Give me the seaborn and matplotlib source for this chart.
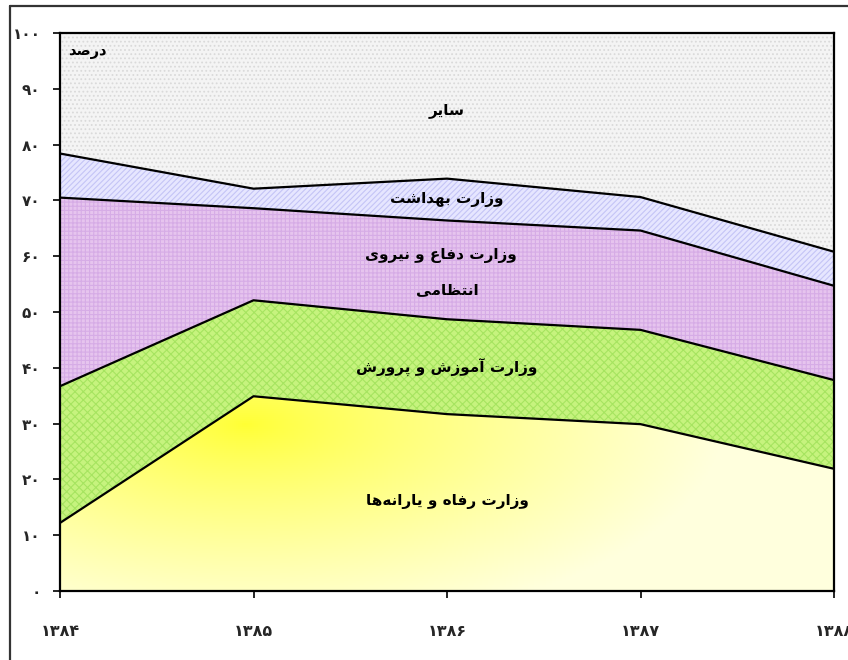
import numpy as np
import pandas as pd
import matplotlib
matplotlib.use("Agg")
import matplotlib.pyplot as plt
from matplotlib.lines import Line2D
import seaborn as sns

# data (percent share of each ministry)
years = [1384, 1385, 1386, 1387, 1388]
year_labels = ["۱۳۸۴", "۱۳۸۵", "۱۳۸۶", "۱۳۸۷", "۱۳۸۸"]
welfare = [12.2, 34.9, 31.7, 29.9, 21.9]
education = [24.5, 17.2, 17.0, 16.9, 15.9]
defense = [33.8, 16.5, 17.7, 17.8, 16.9]
health = [7.9, 3.5, 7.5, 6.0, 6.1]
other = [21.6, 27.9, 26.1, 29.4, 39.2]
y_ticks = [0, 10, 20, 30, 40, 50, 60, 70, 80, 90, 100]
y_labels = ["۰", "۱۰", "۲۰", "۳۰", "۴۰", "۵۰", "۶۰", "۷۰", "۸۰", "۹۰", "۱۰۰"]

# simple arabic shaping (matplotlib has no shaping / bidi)
FORMS = {
    'ا': ('\uFE8D', '\uFE8E', None, None),
    'آ': ('\uFE81', '\uFE82', None, None),
    'ب': ('\uFE8F', '\uFE90', '\uFE91', '\uFE92'),
    'پ': ('\uFB56', '\uFB57', '\uFB58', '\uFB59'),
    'ت': ('\uFE95', '\uFE96', '\uFE97', '\uFE98'),
    'د': ('\uFEA9', '\uFEAA', None, None),
    'ر': ('\uFEAD', '\uFEAE', None, None),
    'ز': ('\uFEAF', '\uFEB0', None, None),
    'س': ('\uFEB1', '\uFEB2', '\uFEB3', '\uFEB4'),
    'ش': ('\uFEB5', '\uFEB6', '\uFEB7', '\uFEB8'),
    'ص': ('\uFEB9', '\uFEBA', '\uFEBB', '\uFEBC'),
    'ظ': ('\uFEC5', '\uFEC6', '\uFEC7', '\uFEC8'),
    'ع': ('\uFEC9', '\uFECA', '\uFECB', '\uFECC'),
    'ف': ('\uFED1', '\uFED2', '\uFED3', '\uFED4'),
    'م': ('\uFEE1', '\uFEE2', '\uFEE3', '\uFEE4'),
    'ن': ('\uFEE5', '\uFEE6', '\uFEE7', '\uFEE8'),
    'ه': ('\uFEE9', '\uFEEA', '\uFEEB', '\uFEEC'),
    'و': ('\uFEED', '\uFEEE', None, None),
    'ی': ('\uFBFC', '\uFBFD', '\uFBFE', '\uFBFF'),
}


def fa(s):
    out = []
    for i, c in enumerate(s):
        if c == '\u200c':
            continue
        if c not in FORMS:
            out.append(c)
            continue
        prev = s[i - 1] if i > 0 else None
        nxt = s[i + 1] if i + 1 < len(s) else None
        p = prev in FORMS and FORMS[prev][2] is not None
        n = nxt in FORMS and FORMS[c][2] is not None
        idx = 3 if (p and n) else 1 if p else 2 if n else 0
        out.append(FORMS[c][idx])
    return ''.join(reversed(out))


sns.set_theme(style="white")
plt.rcParams['font.family'] = ['DejaVu Sans']
plt.rcParams['hatch.linewidth'] = 0.8

fig = plt.figure(figsize=(8.48, 6.6), dpi=100)
ax = fig.add_axes([60 / 848, 1 - 591 / 660, (834 - 60) / 848, (591 - 33) / 660])

df = pd.DataFrame({"year": years, "welfare": welfare, "education": education,
                   "defense": defense, "health": health, "other": other})
series = ["welfare", "education", "defense", "health", "other"]
tops = df[series].cumsum(axis=1)

styles = {
    "welfare": dict(facecolor="none", hatch=None, edgecolor="none"),
    "education": dict(facecolor="#C6F37E", hatch="xxxx", edgecolor="#A6E460"),
    "defense": dict(facecolor="#E6C4EE", hatch="++++", edgecolor="#D6ACE6"),
    "health": dict(facecolor="#E6E6FF", hatch="//////", edgecolor="#C4C4F6"),
    "other": dict(facecolor="#F4F4F4", hatch="....", edgecolor="#DADADA"),
}

bottom = np.zeros(len(years))
polys = {}
for s in series:
    st = styles[s]
    polys[s] = ax.fill_between(df["year"], bottom, tops[s], facecolor=st["facecolor"],
                               hatch=st["hatch"], edgecolor=st["edgecolor"], linewidth=0, zorder=1)
    bottom = tops[s].values

# elliptical yellow gradient for the welfare area
nr, nc = 279, 387
xs = np.linspace(60, 834, nc)
ys = np.linspace(591, 33, nr)
gx, gy = np.meshgrid(xs, ys)
d = np.sqrt(((gx - 245) / 480) ** 2 + ((gy - 425) / 210) ** 2)
t = np.clip(d, 0, 1) ** 0.8
bright = np.array([1.0, 1.0, 0.2])
pale = np.array([1.0, 1.0, 0.87])
rgb = bright[None, None, :] * (1 - t[..., None]) + pale[None, None, :] * t[..., None]
im = ax.imshow(rgb, extent=(1384, 1388, 0, 100), origin="lower", aspect="auto", zorder=1)
im.set_clip_path(polys["welfare"].get_paths()[0], transform=ax.transData)

for s in series[:-1]:
    sns.lineplot(x=df["year"], y=tops[s], color="black", linewidth=1.6, ax=ax, zorder=3)

ax.set_xlim(1384, 1388)
ax.set_ylim(0, 100)
ax.set_xlabel("")
ax.set_ylabel("")
ax.set_xticks(years)
ax.set_xticklabels(year_labels, fontsize=11.5, fontweight="bold")
ax.set_yticks(y_ticks)
ax.set_yticklabels(y_labels, fontsize=11, fontweight="bold")
ax.tick_params(axis="x", direction="out", length=5, width=1.2, color="black", pad=19, bottom=True)
ax.tick_params(axis="y", direction="out", length=5, width=1.2, color="black", pad=9, left=True)
for sp in ax.spines.values():
    sp.set_color("black")
    sp.set_linewidth(1.6)
    sp.set_visible(True)

lbl = dict(fontsize=11, fontweight="bold", ha="center", va="center", color="black", zorder=5)
ax.text(1384.04, 96.6, fa("درصد"), fontsize=10.5, fontweight="bold", ha="left", va="center",
        color="black", zorder=5)
ax.text(1386.0, 86.2, fa("سایر"), **lbl)
ax.text(1386.0, 70.1, fa("وزارت بهداشت"), **lbl)
ax.text(1385.97, 60.2, fa("وزارت دفاع و نیروی"), **lbl)
ax.text(1386.0, 54.1, fa("انتظامی"), **lbl)
ax.text(1386.0, 40.0, fa("وزارت آموزش و پرورش"), **lbl)
ax.text(1386.0, 16.1, fa("وزارت رفاه و یارانه‌ها"), **lbl)

# outer chart frame
fig.add_artist(Line2D([10 / 848, 1.0], [1 - 6 / 660, 1 - 6 / 660], color="#333333", lw=1.6))
fig.add_artist(Line2D([10 / 848, 10 / 848], [0, 1 - 6 / 660], color="#333333", lw=1.6))

fig.savefig("out.png", dpi=100)
